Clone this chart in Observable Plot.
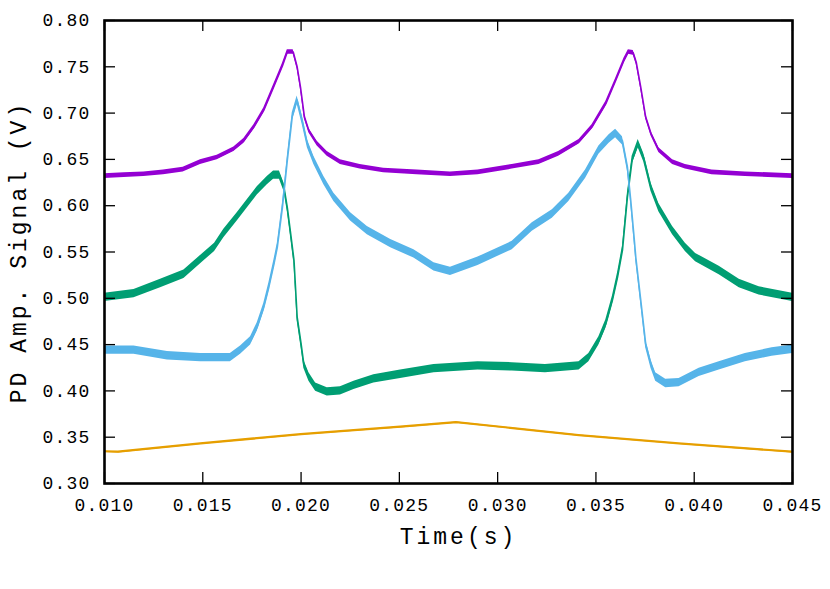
<!DOCTYPE html>
<html>
<head>
<meta charset="utf-8">
<script src="https://cdn.jsdelivr.net/npm/d3@7"></script>
<script src="https://cdn.jsdelivr.net/npm/@observablehq/plot@0.6"></script>
<style>
  html, body { margin: 0; padding: 0; background: #fff; }
  #chart { width: 830px; height: 589px; }
</style>
</head>
<body>
<div id="chart"></div>
<script>
// ---- Data ----
const xTicks = [0.010, 0.015, 0.020, 0.025, 0.030, 0.035, 0.040, 0.045];
const yTicks = [0.30, 0.35, 0.40, 0.45, 0.50, 0.55, 0.60, 0.65, 0.70, 0.75, 0.80];

const purpleT = [0.0100,0.0110,0.0120,0.0130,0.0140,0.01488,0.01573,0.01658,0.01709,0.0176,0.0181,0.0186,0.01905,0.0193,0.0196,0.0198,0.01997,0.02017,0.0204,0.02082,0.02133,0.0220,0.0230,0.0242,0.0259,0.0276,0.0290,0.03074,0.0321,0.0331,0.03414,0.0348,0.0355,0.0360,0.03643,0.03665,0.0369,0.03705,0.03728,0.03753,0.0378,0.0382,0.0389,0.03955,0.0409,0.0426,0.0450];
const purpleV = [0.632,0.633,0.634,0.636,0.639,0.647,0.652,0.661,0.670,0.685,0.703,0.728,0.751,0.766,0.766,0.750,0.728,0.696,0.681,0.667,0.656,0.647,0.642,0.638,0.636,0.634,0.636,0.642,0.647,0.656,0.669,0.685,0.710,0.735,0.757,0.766,0.765,0.755,0.728,0.696,0.678,0.660,0.647,0.642,0.636,0.634,0.632];

const greenT = [0.0100,0.0115,0.01285,0.01404,0.01506,0.0156,0.01607,0.01675,0.01726,0.01777,0.01828,0.0186,0.0189,0.01913,0.0193,0.01947,0.01964,0.0198,0.0200,0.02014,0.0204,0.02074,0.02133,0.0220,0.02269,0.0237,0.02506,0.02676,0.0290,0.03074,0.03243,0.03414,0.03464,0.03515,0.0355,0.03584,0.0361,0.03635,0.0366,0.03684,0.03715,0.03743,0.0378,0.0382,0.0389,0.03955,0.04007,0.04127,0.04229,0.0433,0.0450];
const greenV = [0.501,0.505,0.516,0.526,0.545,0.555,0.570,0.588,0.602,0.616,0.627,0.633,0.633,0.620,0.598,0.570,0.541,0.480,0.451,0.429,0.415,0.404,0.399,0.400,0.406,0.413,0.418,0.424,0.427,0.426,0.424,0.427,0.436,0.454,0.472,0.498,0.523,0.552,0.609,0.649,0.667,0.652,0.620,0.598,0.573,0.555,0.544,0.530,0.516,0.508,0.501];

const blueT = [0.0100,0.0115,0.0132,0.01489,0.0164,0.01692,0.01743,0.01777,0.0181,0.01836,0.01862,0.01879,0.01905,0.0193,0.01955,0.0198,0.02006,0.02032,0.02065,0.02116,0.02167,0.02252,0.02337,0.02456,0.02574,0.02676,0.0276,0.0290,0.03074,0.03176,0.03278,0.03362,0.03447,0.03515,0.03567,0.0360,0.03635,0.0366,0.03677,0.03694,0.03703,0.03728,0.03753,0.0378,0.03804,0.03855,0.03923,0.04025,0.04127,0.0426,0.04396,0.0450];
const blueV = [0.444,0.444,0.438,0.436,0.436,0.444,0.454,0.469,0.490,0.512,0.537,0.555,0.598,0.649,0.696,0.714,0.692,0.667,0.649,0.627,0.609,0.588,0.573,0.559,0.548,0.534,0.529,0.540,0.557,0.577,0.591,0.609,0.634,0.660,0.672,0.678,0.670,0.642,0.606,0.566,0.544,0.498,0.451,0.429,0.415,0.408,0.409,0.420,0.427,0.436,0.442,0.445];

const orangeT = [0.0100,0.0107,0.01489,0.0200,0.02506,0.0279,0.03414,0.03923,0.0450];
const orangeV = [0.3345,0.334,0.343,0.353,0.361,0.366,0.352,0.343,0.334];

// ---- Styles ----
const series = [
  {name: "purple", t: purpleT, v: purpleV, color: "#9400d3", half: 0.0025},
  {name: "green",  t: greenT,  v: greenV,  color: "#009e73", half: 0.0045},
  {name: "blue",   t: blueT,   v: blueV,   color: "#56b4e9", half: 0.0045},
  {name: "orange", t: orangeT, v: orangeV, color: "#e69f00", half: 0.0010}
];
const rowsOf = s => s.t.map((t, i) => ({t, v: s.v[i]}));

const fmtX = d3.format(".3f");
const fmtY = d3.format(".2f");
const plotH = 589 - 20 - 106;
const plotW = 830 - 104 - 38;
const tickLen = 11;

const marks = [];
for (const s of series) {
  const rows = rowsOf(s);
  marks.push(Plot.areaY(rows, {x: "t", y1: d => d.v - s.half, y2: d => d.v + s.half, fill: s.color, clip: true}));
  marks.push(Plot.lineY(rows, {x: "t", y: "v", stroke: s.color, strokeWidth: 1.6, clip: true}));
}
// inward ticks on all four sides
marks.push(Plot.gridX(xTicks, {stroke: "#000", strokeOpacity: 1, strokeWidth: 1.3, insetTop: plotH - tickLen}));
marks.push(Plot.gridX(xTicks, {stroke: "#000", strokeOpacity: 1, strokeWidth: 1.3, insetBottom: plotH - tickLen}));
marks.push(Plot.gridY(yTicks, {stroke: "#000", strokeOpacity: 1, strokeWidth: 1.3, insetRight: plotW - tickLen}));
marks.push(Plot.gridY(yTicks, {stroke: "#000", strokeOpacity: 1, strokeWidth: 1.3, insetLeft: plotW - tickLen}));
marks.push(Plot.frame({stroke: "#000", strokeWidth: 2.6}));
marks.push(Plot.axisX(xTicks, {anchor: "bottom", tickSize: 0, tickPadding: 15, tickFormat: fmtX, label: null}));
marks.push(Plot.axisY(yTicks, {anchor: "left", tickSize: 0, tickPadding: 14, tickFormat: fmtY, label: null}));
marks.push(Plot.text(["Time(s)"], {frameAnchor: "bottom", textAnchor: "middle", text: d => d, dy: 60, dx: 10, fontSize: 23}));
marks.push(Plot.text(["PD Amp. Signal (V)"], {frameAnchor: "left", textAnchor: "middle", text: d => d, rotate: -90, dx: -86, fontSize: 23}));

const chart = Plot.plot({
  width: 830,
  height: 589,
  marginLeft: 104,
  marginRight: 38,
  marginTop: 20,
  marginBottom: 106,
  x: {domain: [0.010, 0.045]},
  y: {domain: [0.30, 0.80]},
  style: {fontFamily: "'Liberation Mono', 'DejaVu Sans Mono', monospace", fontSize: "18px", color: "#000", background: "#fff", overflow: "visible"},
  marks
});
document.getElementById("chart").appendChild(chart);
d3.select(chart).selectAll("g[aria-label='x-axis tick label'] text, g[aria-label='y-axis tick label'] text").style("letter-spacing", "1.2px");
d3.select(chart).selectAll("g[aria-label='text'] text").style("letter-spacing", "3px");
</script>
</body>
</html>
